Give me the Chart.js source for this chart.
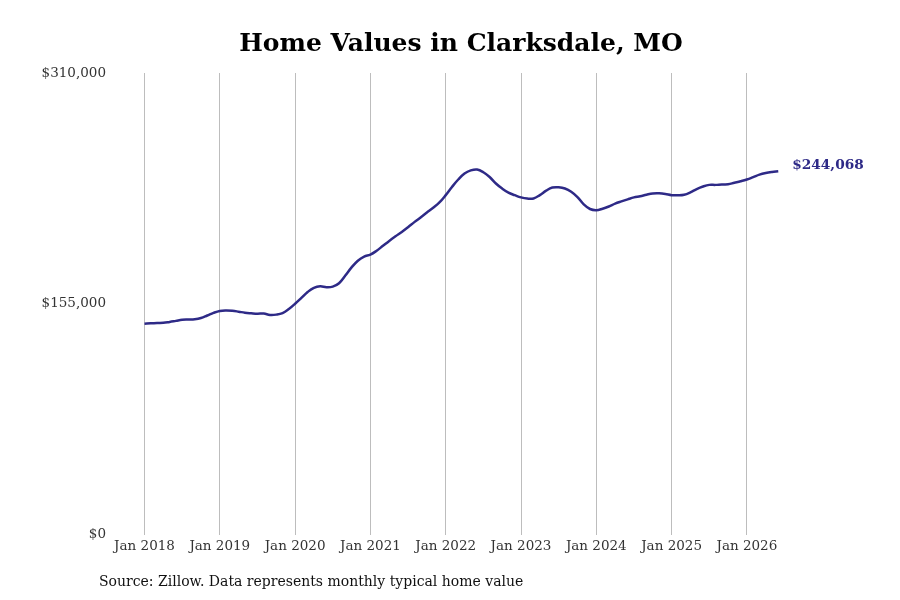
<!DOCTYPE html>
<html>
<head>
<meta charset="utf-8">
<script src="https://cdn.jsdelivr.net/npm/chart.js@4"></script>
<style>
  html, body { margin: 0; padding: 0; background: #fff; }
  #wrap { width: 900px; height: 600px; }
</style>
</head>
<body>
<div id="wrap"><canvas id="myChart"></canvas></div>
<script>
// months counted from Jan 2018
var monthIndex = [];
for (var i = 0; i <= 101; i++) monthIndex.push(i);

var homeValues = [
  141700, 142000, 142200, 142300, 142900, 143600, 144300, 144500, 144700, 145500, 147200, 149000,
  150300, 150600, 150400, 149800, 149100, 148700, 148400, 148500, 147600, 147800, 148800, 151500,
  155100, 159000, 163000, 165800, 166800, 166200, 166600, 168900, 174000, 179500, 184000, 186800,
  188100, 190700, 194000, 197300, 200400, 203300, 206500, 209900, 213000, 216300, 219500, 223100,
  228000, 233500, 238500, 242500, 244600, 245200, 243400, 240200, 235800, 232400, 229700, 228000,
  226500, 225700, 225800, 228000, 231000, 233100, 233300, 232500, 230300, 226700, 221800, 218700,
  217900, 218900, 220400, 222300, 223800, 225200, 226500, 227300, 228300, 229100, 229200, 228800,
  228000, 227900, 228300, 229900, 232100, 233800, 234900, 234900, 235200, 235300, 236300, 237300,
  238500, 240100, 241800, 242900, 243600, 244068
];

var yearTicks = [0, 12, 24, 36, 48, 60, 72, 84, 96];
var yearLabels = ["Jan 2018", "Jan 2019", "Jan 2020", "Jan 2021", "Jan 2022", "Jan 2023", "Jan 2024", "Jan 2025", "Jan 2026"];
var valueTicks = [0, 155000, 310000];

var lineColor = "#2e2a87";
var serif = "'DejaVu Serif', serif";

function money(v) {
  return "$" + Math.round(v).toLocaleString("en-US");
}

var pts = monthIndex.map(function (m, i) { return { x: m, y: homeValues[i] }; });

// title, end label and source note
var extras = {
  id: "extras",
  afterDraw: function (chart) {
    var ctx = chart.ctx;
    var xs = chart.scales.x, ys = chart.scales.y;
    var last = pts[pts.length - 1];
    ctx.save();
    ctx.textBaseline = "middle";
    ctx.fillStyle = "#000";
    ctx.font = "bold 25px " + serif;
    ctx.textAlign = "center";
    ctx.fillText("Home Values in Clarksdale, MO", 461, 44);
    ctx.textAlign = "left";
    ctx.fillStyle = lineColor;
    ctx.font = "bold 13.7px " + serif;
    ctx.fillText(money(last.y), xs.getPixelForValue(last.x) + 14, ys.getPixelForValue(last.y) - 6);
    ctx.fillStyle = "#111";
    ctx.font = "14px " + serif;
    ctx.fillText("Source: Zillow. Data represents monthly typical home value", 99, 582);
    ctx.restore();
  }
};

new Chart("myChart", {
  type: "line",
  data: {
    datasets: [{
      data: pts,
      borderColor: lineColor,
      borderWidth: 2.5,
      pointRadius: 0,
      tension: 0.4,
      fill: false
    }]
  },
  options: {
    responsive: true,
    maintainAspectRatio: false,
    animation: false,
    layout: { padding: { left: 0, right: 0, top: 73, bottom: 41 } },
    plugins: {
      legend: { display: false },
      tooltip: { enabled: false },
      title: { display: false }
    },
    scales: {
      x: {
        type: "linear",
        min: -5.5,
        max: 120.4,
        afterBuildTicks: function (s) { s.ticks = yearTicks.map(function (v) { return { value: v }; }); },
        ticks: {
          autoSkip: false,
          maxRotation: 0,
          color: "#333",
          padding: 4,
          font: { family: serif, size: 13.5 },
          callback: function (v) { return yearLabels[yearTicks.indexOf(v)]; }
        },
        grid: { color: "#bdbdbd", lineWidth: 1, drawTicks: false },
        border: { display: false }
      },
      y: {
        min: 0,
        max: 310000,
        afterBuildTicks: function (s) { s.ticks = valueTicks.map(function (v) { return { value: v }; }); },
        afterFit: function (s) { s.width = 110; },
        ticks: {
          color: "#333",
          padding: 4,
          font: { family: serif, size: 13.5 },
          callback: function (v) { return money(v); }
        },
        grid: { display: false, drawTicks: false },
        border: { display: false }
      }
    }
  },
  plugins: [extras]
});
</script>
</body>
</html>
